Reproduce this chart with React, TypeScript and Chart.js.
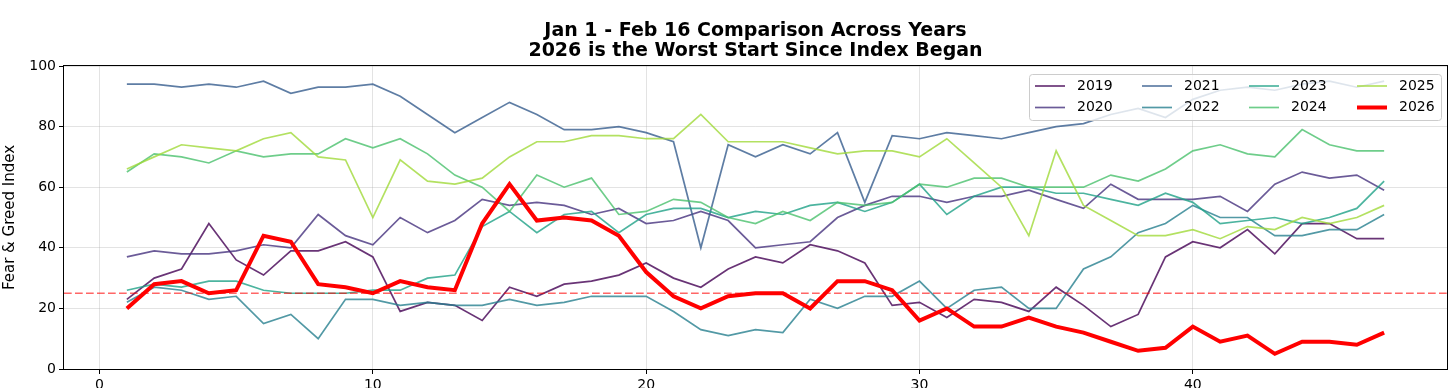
import React, { useEffect, useRef } from "react";
import { Chart, registerables } from "chart.js";

Chart.register(...registerables);

const days = [1, 2, 3, 4, 5, 6, 7, 8, 9, 10, 11, 12, 13, 14, 15, 16, 17, 18, 19, 20, 21, 22, 23, 24, 25, 26, 27, 28, 29, 30, 31, 32, 33, 34, 35, 36, 37, 38, 39, 40, 41, 42, 43, 44, 45, 46, 47];

const years = ["2019", "2020", "2021", "2022", "2023", "2024", "2025", "2026"];

const v2019 = [23, 30, 33, 48, 36, 31, 39, 39, 42, 37, 19, 22, 21, 16, 27, 24, 28, 29, 31, 35, 30, 27, 33, 37, 35, 41, 39, 35, 21, 22, 17, 23, 22, 19, 27, 21, 14, 18, 37, 42, 40, 46, 38, 48, 48, 43, 43];
const v2020 = [37, 39, 38, 38, 39, 41, 40, 51, 44, 41, 50, 45, 49, 56, 54, 55, 54, 51, 53, 48, 49, 52, 49, 40, 41, 42, 50, 54, 57, 57, 55, 57, 57, 59, 56, 53, 61, 56, 56, 56, 57, 52, 61, 65, 63, 64, 59];
const v2021 = [94, 94, 93, 94, 93, 95, 91, 93, 93, 94, 90, 84, 78, 83, 88, 84, 79, 79, 80, 78, 75, 40, 74, 70, 74, 71, 78, 55, 77, 76, 78, 77, 76, 78, 80, 81, 84, 86, 83, 89, 92, 93, 92, 94, 95, 93, 95];
const v2022 = [22, 27, 26, 23, 24, 15, 18, 10, 23, 23, 21, 22, 21, 21, 23, 21, 22, 24, 24, 24, 19, 13, 11, 13, 12, 23, 20, 24, 24, 29, 20, 26, 27, 20, 20, 33, 37, 45, 48, 54, 50, 50, 44, 44, 46, 46, 51];
const v2023 = [26, 28, 27, 29, 29, 26, 25, 25, 25, 26, 26, 30, 31, 47, 52, 45, 51, 52, 45, 51, 53, 53, 50, 52, 51, 54, 55, 52, 55, 61, 51, 57, 60, 60, 58, 58, 56, 54, 58, 55, 48, 49, 50, 48, 50, 53, 62];
const v2024 = [65, 71, 70, 68, 72, 70, 71, 71, 76, 73, 76, 71, 64, 60, 52, 64, 60, 63, 51, 52, 56, 55, 50, 48, 52, 49, 55, 54, 55, 61, 60, 63, 63, 60, 60, 60, 64, 62, 66, 72, 74, 71, 70, 79, 74, 72, 72];
const v2025 = [66, 70, 74, 73, 72, 76, 78, 70, 69, 50, 69, 62, 61, 63, 70, 75, 75, 77, 77, 76, 76, 84, 75, 75, 75, 73, 71, 72, 72, 70, 76, 68, 60, 44, 72, 54, 49, 44, 44, 46, 43, 47, 46, 50, 48, 50, 54];
const v2026 = [20, 28, 29, 25, 26, 44, 42, 28, 27, 25, 29, 27, 26, 48, 61, 49, 50, 49, 44, 32, 24, 20, 24, 25, 25, 20, 29, 29, 26, 16, 20, 14, 14, 17, 14, 12, 9, 6, 7, 14, 9, 11, 5, 9, 9, 8, 12];

const seriesValues = [v2019, v2020, v2021, v2022, v2023, v2024, v2025, v2026];
const seriesColors = [
  "rgba(68,1,84,0.8)",
  "rgba(70,50,126,0.8)",
  "rgba(54,92,141,0.8)",
  "rgba(39,127,142,0.8)",
  "rgba(31,161,135,0.8)",
  "rgba(74,193,109,0.8)",
  "rgba(160,218,57,0.8)",
  "#ff0000",
];
const seriesWidths = [1.7, 1.7, 1.7, 1.7, 1.7, 1.7, 1.7, 4];

const xTicks = [0, 10, 20, 30, 40];
const yTicks = [0, 20, 40, 60, 80, 100];
const fearThreshold = 25;
const titleLines = ["Jan 1 - Feb 16 Comparison Across Years", "2026 is the Worst Start Since Index Began"];
const yAxisLabel = "Fear & Greed Index";

const FONT = "'DejaVu Sans', sans-serif";

const decorPlugin = {
  id: "decor",
  afterDatasetsDraw(chart: any) {
    const { ctx, chartArea: a, scales } = chart;
    const y = scales.y.getPixelForValue(fearThreshold);
    ctx.save();
    ctx.beginPath();
    ctx.rect(a.left, a.top, a.right - a.left, a.bottom - a.top);
    ctx.clip();
    ctx.strokeStyle = "rgba(255,0,0,0.6)";
    ctx.lineWidth = 1.5;
    ctx.setLineDash([7.7, 3.3]);
    ctx.beginPath();
    ctx.moveTo(a.left, y);
    ctx.lineTo(a.right, y);
    ctx.stroke();
    ctx.restore();

    ctx.save();
    ctx.strokeStyle = "#000";
    ctx.lineWidth = 1;
    ctx.strokeRect(Math.round(a.left) - 0.5, Math.round(a.top) - 0.5, Math.round(a.right - a.left) + 1, Math.round(a.bottom - a.top) + 1);
    ctx.restore();
  },
  afterDraw(chart: any) {
    const { ctx, chartArea: a } = chart;
    ctx.save();
    // title
    ctx.fillStyle = "#000";
    ctx.font = `bold 19px ${FONT}`;
    ctx.textAlign = "center";
    ctx.textBaseline = "middle";
    const cx = (a.left + a.right) / 2;
    ctx.fillText(titleLines[0], cx, 31);
    ctx.fillText(titleLines[1], cx, 51);

    // y axis label
    ctx.save();
    ctx.translate(10, (a.top + a.bottom) / 2);
    ctx.rotate(-Math.PI / 2);
    ctx.font = `15px ${FONT}`;
    ctx.fillText(yAxisLabel, 0, 0);
    ctx.restore();

    // legend
    const bx = 1029.5, by = 74.5, bw = 412, bh = 46, r = 3;
    ctx.beginPath();
    ctx.moveTo(bx + r, by);
    ctx.lineTo(bx + bw - r, by);
    ctx.quadraticCurveTo(bx + bw, by, bx + bw, by + r);
    ctx.lineTo(bx + bw, by + bh - r);
    ctx.quadraticCurveTo(bx + bw, by + bh, bx + bw - r, by + bh);
    ctx.lineTo(bx + r, by + bh);
    ctx.quadraticCurveTo(bx, by + bh, bx, by + bh - r);
    ctx.lineTo(bx, by + r);
    ctx.quadraticCurveTo(bx, by, bx + r, by);
    ctx.closePath();
    ctx.fillStyle = "rgba(255,255,255,0.8)";
    ctx.fill();
    ctx.strokeStyle = "#cccccc";
    ctx.lineWidth = 1;
    ctx.stroke();

    const colX = [1035, 1142, 1249, 1357];
    const rowY = [86, 107.5];
    ctx.font = `14px ${FONT}`;
    ctx.textAlign = "left";
    years.forEach((yr, i) => {
      const c = Math.floor(i / 2);
      const rr = i % 2;
      const x0 = colX[c];
      const y0 = rowY[rr];
      ctx.strokeStyle = seriesColors[i];
      ctx.lineWidth = seriesWidths[i];
      ctx.beginPath();
      ctx.moveTo(x0, y0);
      ctx.lineTo(x0 + 30, y0);
      ctx.stroke();
      ctx.fillStyle = "#000";
      ctx.fillText(yr, x0 + 42, y0);
    });
    ctx.restore();
  },
};

export default function App() {
  const ref = useRef<HTMLCanvasElement | null>(null);
  useEffect(() => {
    document.body.style.margin = "0";
    const canvas = ref.current!;
    const chart = new Chart(canvas, {
      type: "line",
      data: {
        datasets: years.map((yr, i) => ({
          label: yr,
          data: days.map((d, k) => ({ x: d, y: seriesValues[i][k] })),
          borderColor: seriesColors[i],
          backgroundColor: seriesColors[i],
          borderWidth: seriesWidths[i],
          pointRadius: 0,
          tension: 0,
          fill: false,
          order: years.length - 1 - i,
        })),
      },
      options: {
        responsive: false,
        animation: false,
        devicePixelRatio: 1,
        layout: { padding: { left: 0, right: 9, top: 66, bottom: 0 } },
        plugins: {
          legend: { display: false },
          title: { display: false },
          tooltip: { enabled: false },
        },
        scales: {
          x: {
            type: "linear",
            min: -1.3,
            max: 49.3,
            afterBuildTicks: (s: any) => {
              s.ticks = xTicks.map((v) => ({ value: v }));
            },
            afterFit: (s: any) => {
              s.height = 19;
            },
            grid: {
              color: "rgba(176,176,176,0.35)",
              lineWidth: 1,
              tickColor: "#000",
              tickLength: 5,
              drawTicks: true,
            },
            border: { display: false },
            ticks: {
              color: "#000",
              font: { family: FONT, size: 14 },
              padding: 3,
              maxRotation: 0,
              callback: (v: any) => String(v),
            },
          },
          y: {
            type: "linear",
            min: 0,
            max: 100,
            afterBuildTicks: (s: any) => {
              s.ticks = yTicks.map((v) => ({ value: v }));
            },
            afterFit: (s: any) => {
              s.width = 64;
            },
            grid: {
              color: "rgba(176,176,176,0.35)",
              lineWidth: 1,
              tickColor: "#000",
              tickLength: 5,
              drawTicks: true,
            },
            border: { display: false },
            ticks: {
              color: "#000",
              font: { family: FONT, size: 14 },
              padding: 3,
              callback: (v: any) => String(v),
            },
          },
        },
      },
      plugins: [decorPlugin],
    });
    return () => chart.destroy();
  }, []);
  return (
    <div style={{ position: "absolute", left: 0, top: 0, width: 1456, height: 388 }}>
      <canvas ref={ref} width={1456} height={388} style={{ display: "block" }} />
    </div>
  );
}
